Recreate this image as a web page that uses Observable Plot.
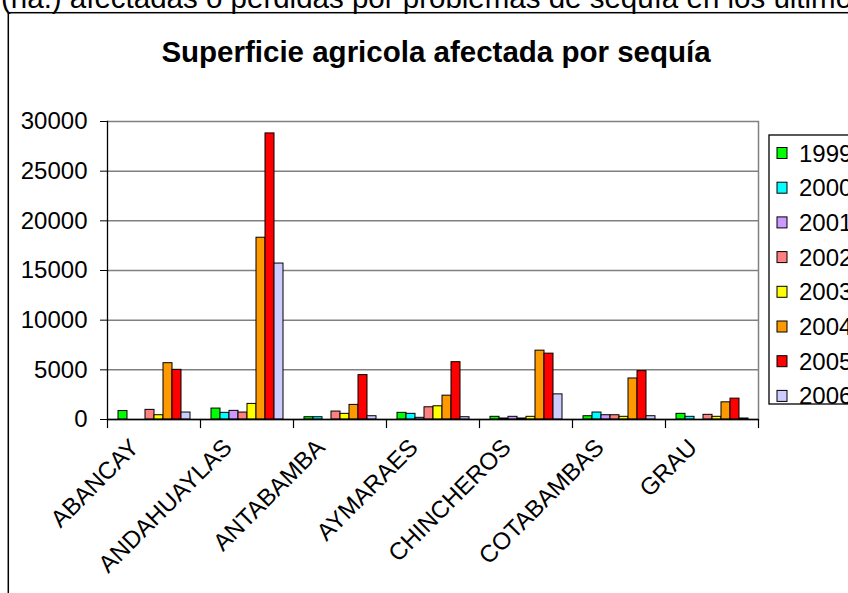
<!DOCTYPE html>
<html>
<head>
<meta charset="utf-8">
<script src="https://cdn.jsdelivr.net/npm/d3@7"></script>
<script src="https://cdn.jsdelivr.net/npm/@observablehq/plot@0.6"></script>
<style>
  html, body { margin: 0; padding: 0; background: #fff; }
  body { width: 848px; height: 593px; overflow: hidden; position: relative; font-family: "Liberation Sans", Arial, sans-serif; }
  #chart { position: absolute; left: 0; top: 0; }
  #overlay { position: absolute; left: 0; top: 0; pointer-events: none; }
</style>
</head>
<body>
<div id="chart"></div>
<svg id="overlay" width="848" height="593"></svg>
<script>
const categories = ["ABANCAY", "ANDAHUAYLAS", "ANTABAMBA", "AYMARAES", "CHINCHEROS", "COTABAMBAS", "GRAU"];
const years = ["1999", "2000", "2001", "2002", "2003", "2004", "2005", "2006"];
const colors = ["#00ff00", "#00ffff", "#cc99ff", "#ff8080", "#ffff00", "#ff9900", "#ff0000", "#ccccff"];
const v1999 = [850, 1100, 230, 670, 270, 330, 570];
const v2000 = [0, 670, 230, 570, 100, 700, 270];
const v2001 = [0, 870, 0, 170, 270, 430, 0];
const v2002 = [970, 700, 800, 1230, 100, 430, 470];
const v2003 = [430, 1570, 570, 1330, 270, 270, 270];
const v2004 = [5670, 18300, 1470, 2400, 6930, 4130, 1730];
const v2005 = [5000, 28800, 4470, 5770, 6630, 4870, 2100];
const v2006 = [700, 15700, 330, 230, 2530, 330, 100];
const yTicks = [0, 5000, 10000, 15000, 20000, 25000, 30000];
const titleText = "Superficie agricola afectada por sequía";
const topText = "(ha.) afectadas o perdidas por problemas de sequía en los últimos años";

const series = [v1999, v2000, v2001, v2002, v2003, v2004, v2005, v2006];
const data = [];
categories.forEach((c, i) => years.forEach((y, j) => data.push({cat: c, year: y, value: series[j][i]})));

const font = "Liberation Sans, Arial, sans-serif";

const chart = Plot.plot({
  width: 848,
  height: 593,
  marginLeft: 107,
  marginRight: 90,
  marginTop: 121,
  marginBottom: 174,
  style: {fontFamily: font, fontSize: "23px", background: "transparent", color: "black", overflow: "visible"},
  fx: {domain: categories, padding: 0, label: null},
  x: {domain: years, paddingInner: 0, paddingOuter: 0.7, axis: null},
  y: {domain: [0, 30000], label: null},
  color: {domain: years, range: colors},
  marks: [
    Plot.gridY(yTicks, {stroke: "#808080", strokeOpacity: 1, strokeWidth: 1.5}),
    Plot.frame({anchor: "right", facetAnchor: "right", stroke: "#808080", strokeWidth: 1.5}),
    Plot.barY(data.filter(d => d.value > 0), {fx: "cat", x: "year", y: "value", fill: "year", stroke: "black", strokeWidth: 1}),
    Plot.ruleY([0], {stroke: "black", strokeWidth: 1.3}),
    Plot.frame({anchor: "left", facetAnchor: "left", stroke: "black", strokeWidth: 1.3}),
    Plot.frame({anchor: "left", insetTop: 298, insetBottom: -8, stroke: "black", strokeWidth: 1.2}),
    Plot.frame({anchor: "right", facetAnchor: "right", insetTop: 298, insetBottom: -8, stroke: "black", strokeWidth: 1.2}),
    Plot.axisY(yTicks, {tickSize: 7, tickPadding: 13, fontSize: 24, tickFormat: d => String(d), label: null, stroke: "black"}),
    Plot.axisFx({anchor: "bottom", tickRotate: -45, tickSize: 0, tickPadding: 24, fontSize: 24, label: null, dx: -19})
  ]
});
document.getElementById("chart").appendChild(chart);

// Overlay: outer border, titles, legend
const svg = d3.select("#overlay");
svg.append("text").attr("x", 1).attr("y", 8).attr("font-family", font).attr("font-size", 29.5).attr("fill", "black").text(topText);
svg.append("rect").attr("x", 8.3).attr("y", 12.7).attr("width", 1000).attr("height", 1000)
  .attr("fill", "none").attr("stroke", "black").attr("stroke-width", 1.5);
svg.append("text").attr("x", 436).attr("y", 62).attr("text-anchor", "middle")
  .attr("font-family", font).attr("font-size", 29.5).attr("font-weight", "bold").attr("fill", "black").text(titleText);

svg.append("rect").attr("x", 769).attr("y", 135).attr("width", 200).attr("height", 269)
  .attr("fill", "white").attr("stroke", "black").attr("stroke-width", 1.3);
const legendStep = 34.7;
const leg = svg.selectAll("g.leg").data(years).join("g").attr("class", "leg")
  .attr("transform", (d, i) => `translate(0,${153 + i * legendStep})`);
leg.append("rect").attr("x", 777).attr("y", -5.5).attr("width", 10).attr("height", 11)
  .attr("fill", (d, i) => colors[i]).attr("stroke", "black").attr("stroke-width", 1);
leg.append("text").attr("x", 799).attr("y", 8.5).attr("font-family", font).attr("font-size", 24).attr("fill", "black").text(d => d);
</script>
</body>
</html>
